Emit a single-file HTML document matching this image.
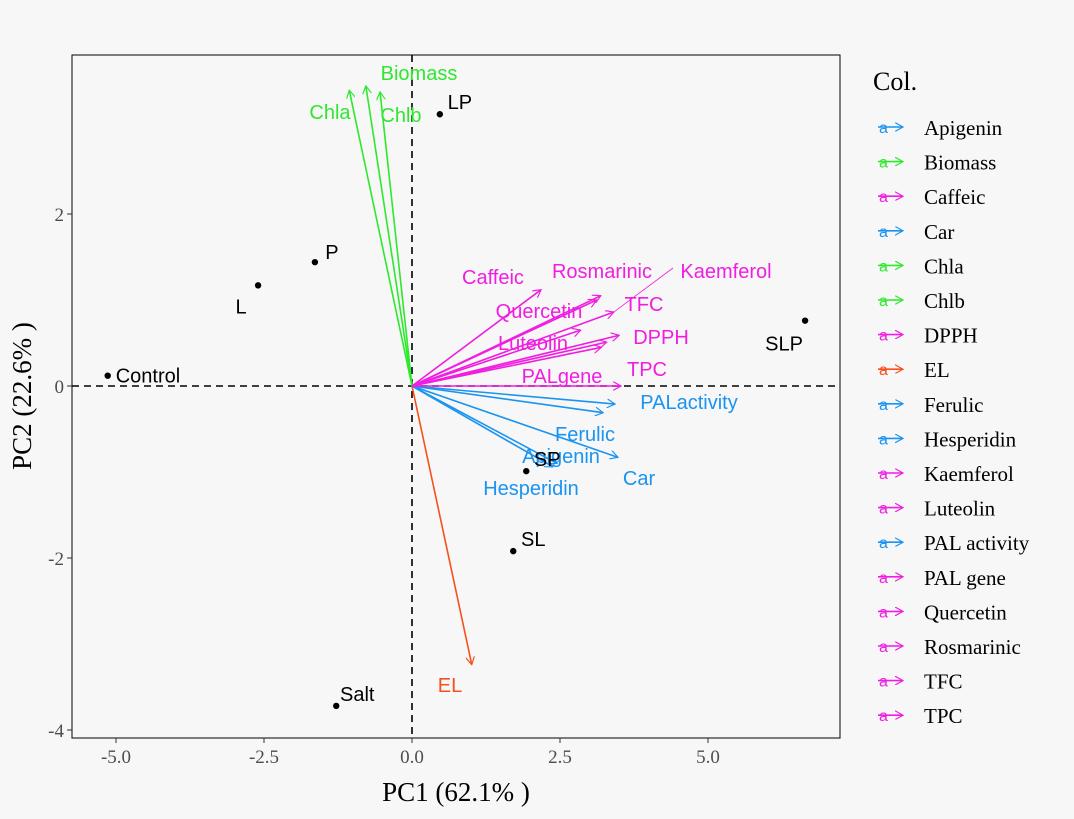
<!DOCTYPE html>
<html><head><meta charset="utf-8"><style>
body{margin:0;background:#f7f7f7}
svg text{font-family:"Liberation Sans",Arial,sans-serif}
.serif{font-family:"Liberation Serif",serif}
</style></head><body>
<svg id="chart" width="1074" height="814" xmlns="http://www.w3.org/2000/svg">
<defs><marker id="ah" viewBox="0 0 10 10" refX="9" refY="5" markerWidth="9" markerHeight="9" orient="auto" markerUnits="userSpaceOnUse"><path d="M0,0 L9,5 L0,10" fill="none" stroke="context-stroke" stroke-width="1.3"/></marker></defs>
<rect x="0" y="0" width="1074" height="814" fill="#f7f7f7"/>
<g id="plot"></g>
<g id="legend"></g>
</svg>
<script>
const varNames=["Apigenin","Biomass","Caffeic","Car","Chla","Chlb","DPPH","EL","Ferulic","Hesperidin","Kaemferol","Luteolin","PALactivity","PALgene","Quercetin","Rosmarinic","TFC","TPC"];
const varX=[2.45,-0.78,2.18,3.48,-1.06,-0.54,3.5,1.01,3.23,2.38,3.41,2.85,3.43,3.53,3.12,3.19,3.29,3.2];
const varY=[-0.90,3.49,1.12,-0.83,3.44,3.42,0.59,-3.24,-0.31,-0.94,0.86,0.65,-0.21,0,1.0,1.05,0.51,0.45];
const varGroup=["blue","green","mag","blue","green","green","mag","red","blue","blue","mag","mag","blue","mag","mag","mag","mag","mag"];
const labelPx=[[561,456],[419,73],[493,277],[639,478],[330,112],[401,115],[661,337],[450,685],[585,434],[531,488],[726,271],[533,343],[689,402],[562,376],[539,311],[602,271],[644,304],[647,369]];
const obsNames=["Control","L","P","LP","SLP","SP","SL","Salt"];
const obsX=[-5.14,-2.6,-1.64,0.47,6.64,1.93,1.71,-1.28];
const obsY=[0.12,1.17,1.44,3.16,0.76,-0.99,-1.92,-3.72];
const xTicks=[-5,-2.5,0,2.5,5];
const xTickLabels=["-5.0","-2.5","0.0","2.5","5.0"];
const yTicks=[-4,-2,0,2];
const legendNames=["Apigenin","Biomass","Caffeic","Car","Chla","Chlb","DPPH","EL","Ferulic","Hesperidin","Kaemferol","Luteolin","PAL activity","PAL gene","Quercetin","Rosmarinic","TFC","TPC"];
const colors={blue:"#1a94f0",green:"#2ee82e",mag:"#f01ee0",red:"#f5501e"};
const L=72,R=840,T=55,B=738;
const sx=v=>412+v*59.2, sy=v=>386-v*86;
const NS="http://www.w3.org/2000/svg";
const plot=document.getElementById('plot'), leg=document.getElementById('legend');
function mk(tag,attrs,parent,txt){const e=document.createElementNS(NS,tag);for(const k in attrs)e.setAttribute(k,attrs[k]);if(txt!==undefined)e.textContent=txt;parent.appendChild(e);return e;}
let e;
e=mk('rect',{x:L,y:T,width:R-L,height:B-T,fill:"#f7f7f7",stroke:"#000","stroke-width":1},plot);


e=mk('line',{x1:L,x2:R,y1:sy(0),y2:sy(0),stroke:"#000","stroke-dasharray":"7,5","stroke-width":1.6},plot);


e=mk('line',{x1:sx(0),x2:sx(0),y1:T,y2:B,stroke:"#000","stroke-dasharray":"7,5","stroke-width":1.6},plot);


e=mk('line',{x1:sx(varX[10]),y1:sy(varY[10]),x2:673,y2:268,stroke:colors.mag,"stroke-width":0.8},plot);


varNames.forEach((n,i)=>{
  const c=colors[varGroup[i]];
  const a=mk('line',{x1:sx(0),y1:sy(0),x2:sx(varX[i]),y2:sy(varY[i]),stroke:c,"stroke-width":1.6,"marker-end":"url(#ah)"},plot);
  
  
  const t=mk('text',{x:labelPx[i][0],y:labelPx[i][1]+7,"text-anchor":"middle","font-size":20,fill:c},plot,n);
  
  
});
const obsLab=[[8,0,"start"],[-17,21,"middle"],[17,-10,"middle"],[20,-12,"middle"],[-21,23,"middle"],[21,-12,"middle"],[20,-12,"middle"],[21,-12,"middle"]];
obsNames.forEach((n,i)=>{
  const c=mk('circle',{cx:sx(obsX[i]),cy:sy(obsY[i]),r:3.2,fill:"#000"},plot);
  
  
  const o=obsLab[i];
  const t=mk('text',{x:sx(obsX[i])+o[0],y:sy(obsY[i])+o[1]+7,"text-anchor":o[2],"font-size":20,fill:"#000"},plot,n);
  
  
});
xTicks.forEach((v,i)=>{
  e=mk('line',{x1:sx(v),x2:sx(v),y1:B,y2:B+5,stroke:"#333"},plot);
  
  
  e=mk('text',{x:sx(v),y:B+25,"text-anchor":"middle","font-size":19,fill:"#4d4d4d",class:"serif"},plot,xTickLabels[i]);
  
  
});
yTicks.forEach(v=>{
  e=mk('line',{x1:L-5,x2:L,y1:sy(v),y2:sy(v),stroke:"#333"},plot);
  
  
  e=mk('text',{x:L-8,y:sy(v)+7,"text-anchor":"end","font-size":19,fill:"#4d4d4d",class:"serif"},plot,String(v));
  
  
});
e=mk('text',{x:456,y:801,"text-anchor":"middle","font-size":27,fill:"#000",class:"serif"},plot,"PC1 (62.1% )");


e=mk('text',{x:0,y:0,"text-anchor":"middle","font-size":27,fill:"#000",class:"serif",transform:"translate(31,396) rotate(-90)"},plot,"PC2 (22.6% )");


e=mk('text',{x:873,y:90,"font-size":26,fill:"#000",class:"serif"},leg,"Col.");


legendNames.forEach((n,i)=>{
  const y=127+i*34.6, c=colors[varGroup[i]];
  const g=mk('g',{},leg);
  
  
  mk('line',{x1:878,y1:y,x2:903,y2:y,stroke:c,"stroke-width":1.6,"marker-end":"url(#ah)"},g);
  mk('text',{x:879,y:y+6,"font-size":16,fill:c},g,"a");
  mk('text',{x:924,y:y+8,"font-size":21,fill:"#000",class:"serif"},g,n);
});
</script>
</body></html>
